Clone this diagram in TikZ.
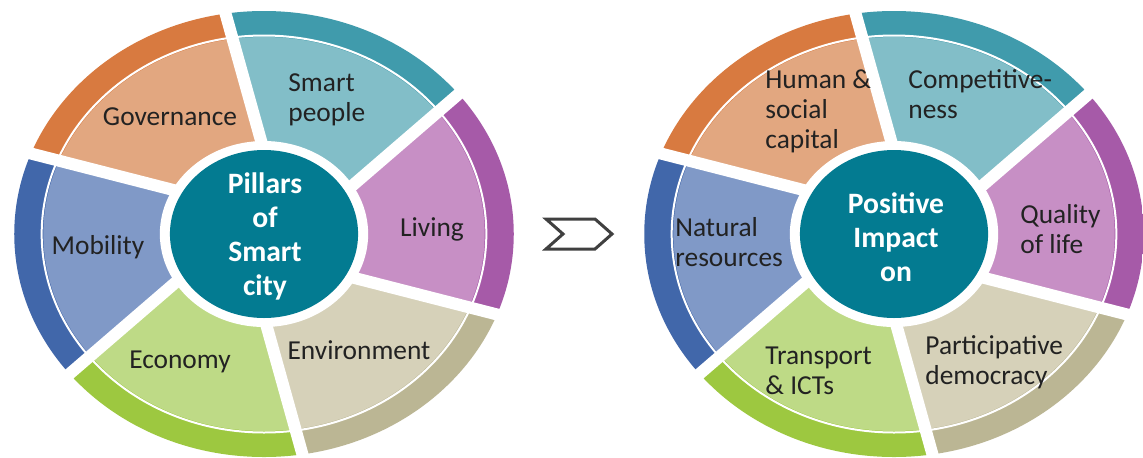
\documentclass[tikz,border=0pt]{standalone}
\usepackage{fontspec}
\setmainfont{Carlito}
\usetikzlibrary{calc}
\definecolor{spL}{HTML}{82BEC8}\definecolor{spD}{HTML}{409BAC}
\definecolor{govL}{HTML}{E2A780}\definecolor{govD}{HTML}{D87A40}
\definecolor{mobL}{HTML}{8099C7}\definecolor{mobD}{HTML}{4167AA}
\definecolor{ecoL}{HTML}{BEDA86}\definecolor{ecoD}{HTML}{9DC840}
\definecolor{envL}{HTML}{D6D1B9}\definecolor{envD}{HTML}{BBB694}
\definecolor{livL}{HTML}{C78FC5}\definecolor{livD}{HTML}{A65AA8}
\definecolor{hub}{HTML}{037B91}
\definecolor{txt}{HTML}{222222}
\definecolor{chev}{HTML}{404040}
\tikzset{
  lbl/.style={font=\fontsize{13.7}{15}\selectfont, text=txt, inner sep=0pt, align=left},
  hubtxt/.style={font=\fontsize{14.8}{17}\selectfont\bfseries, text=white, align=center, inner sep=0pt},
  gapline/.style={white, line width=6pt},
}
\newcommand\mywheel[1]{%
 \begin{scope}[shift={#1},xscale=1.12]
  \foreach \k/\lc/\dc in {0/spL/spD,1/govL/govD,2/mobL/mobD,3/ecoL/ecoD,4/envL/envD,5/livL/livD}{
    \pgfmathsetmacro\ta{44+60*\k}
    \pgfmathsetmacro\tb{\ta+60}
    \pgfmathsetmacro\tc{\ta-60}
    \pgfmathsetmacro\tn{\ta-90}
    \pgfmathsetmacro\tm{\tb-90}
    \begin{scope}
      \clip (0,0) circle (223);
      \fill[\dc] (\tc:23.1) -- ($(\ta:320)+(\tn:20)$) -- ($(\tb:320)+(\tm:20)$) -- cycle;
    \end{scope}
    \begin{scope}
      \clip (0,0) circle (197);
      \fill[\lc] (\tc:23.1) -- ($(\ta:320)+(\tn:20)$) -- ($(\tb:320)+(\tm:20)$) -- cycle;
    \end{scope}
  }
  \draw[white, line width=1pt] (0,0) circle (198.5);
  \foreach \k in {0,...,5}{
    \pgfmathsetmacro\ta{44+60*\k}
    \pgfmathsetmacro\tn{\ta-90}
    \draw[gapline] (\tn:20) -- ($(\ta:330)+(\tn:20)$);
  }
  \fill[white] (0,0) circle (93);
  \fill[hub] (0,0) circle (84);
 \end{scope}}
\begin{document}
\begin{tikzpicture}[x=0.5pt,y=0.5pt]
\useasboundingbox (0,0) rectangle (1143,457);
\fill[white] (0,0) rectangle (1143,457);
\begin{scope}
\clip (0,0) rectangle (1143,457);
\mywheel{(264,223)}
\mywheel{(894,223)}
\end{scope}
% left wheel labels
\node[lbl] (gov) at (170,340) {Governance};
\node[lbl, anchor=west] (sp) at (288,357) {Smart\\people};
\node[lbl] (liv) at (432,228) {Living};
\node[lbl] (env) at (359,107) {Environment};
\node[lbl] (eco) at (180,95) {Economy};
\node[lbl] (mob) at (98,210) {Mobility};
\node[hubtxt] (hubL) at (265,221) {Pillars\\of\\Smart\\city};
% right wheel labels
\node[lbl, anchor=west] (hum) at (765,346) {Human \&\\social\\capital};
\node[lbl, anchor=west] (comp) at (908,363) {Competitive-\\ness};
\node[lbl, anchor=west] (qual) at (1020,228) {Quality\\of life};
\node[lbl, anchor=west] (nat) at (675,215) {Natural\\resources};
\node[lbl, anchor=west] (tra) at (765,86) {Transport\\\& ICTs};
\node[lbl, anchor=west] (par) at (925,95) {Participative\\democracy};
\node[hubtxt] (hubR) at (896,220) {Positive\\Impact\\on};
% chevron
\draw[chev, line width=1.5pt, fill=white, line join=miter]
  (546,238) -- (595,238) -- (612,223) -- (595,208) -- (546,208) -- (563,223) -- cycle;
\end{tikzpicture}
\end{document}
